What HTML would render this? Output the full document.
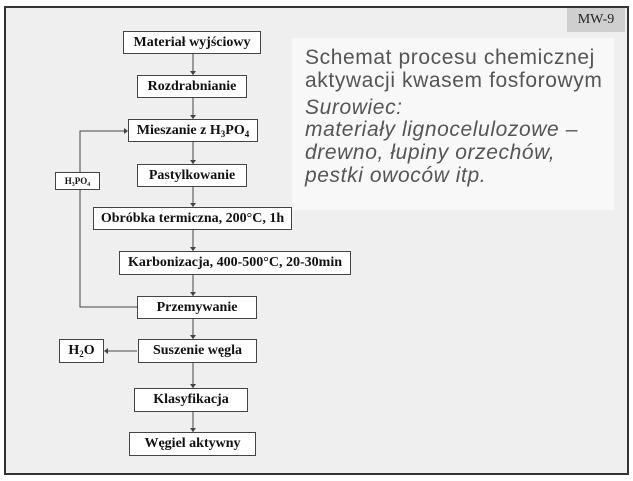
<!DOCTYPE html>
<html><head><meta charset="utf-8"><style>
body{margin:0;width:633px;height:481px;background:#fff;position:relative;overflow:hidden;font-family:"Liberation Serif",serif}
.frame{position:absolute;left:4px;top:6px;width:621px;height:465px;border:2px solid #333;background:#efefef}
.b{position:absolute;border:1px solid #444;background:#fff;font-weight:bold;font-size:14px;color:#111;display:flex;align-items:center;justify-content:center;white-space:nowrap;box-sizing:border-box}
.b sub{font-size:9px;vertical-align:-3px;line-height:0}
.t{position:absolute;font-family:"Liberation Sans",sans-serif;color:#555;font-size:21px;letter-spacing:0.6px;white-space:nowrap;line-height:24px}
svg{position:absolute;left:0;top:0}
</style></head><body>
<div class="frame"></div>
<div style="position:absolute;left:567px;top:8px;width:58px;height:24px;background:#cfcfcf;font-size:14px;color:#222;display:flex;align-items:center;justify-content:center">MW-9</div>
<div style="position:absolute;left:292px;top:38px;width:322px;height:172px;background:#f8f8f8"></div>
<div class="t" style="left:305px;top:46px">Schemat procesu chemicznej</div>
<div class="t" style="left:305px;top:69px">aktywacji kwasem fosforowym</div>
<div class="t" style="left:305px;top:96px;font-style:italic">Surowiec:</div>
<div class="t" style="left:305px;top:118px;font-style:italic">materiały lignocelulozowe –</div>
<div class="t" style="left:305px;top:141px;font-style:italic">drewno, łupiny orzechów,</div>
<div class="t" style="left:305px;top:164px;font-style:italic">pestki owoców itp.</div>
<svg width="633" height="481"><g stroke="#444" stroke-width="1" fill="none">
<line x1="193" y1="53" x2="193" y2="75"/><line x1="193" y1="97" x2="193" y2="119"/>
<line x1="193" y1="141" x2="193" y2="164"/><line x1="193" y1="186" x2="193" y2="207"/>
<line x1="193" y1="229" x2="193" y2="251"/><line x1="193" y1="275" x2="193" y2="296"/>
<line x1="193" y1="319" x2="193" y2="339"/><line x1="193" y1="363" x2="193" y2="388"/>
<line x1="193" y1="412" x2="193" y2="432"/>
<polyline points="137,307 80,307 80,131 124,131"/>
<line x1="137" y1="351" x2="108" y2="351"/>
</g><g fill="#444">
<polygon points="190,71 196,71 193,75"/><polygon points="190,115 196,115 193,119"/>
<polygon points="190,160 196,160 193,164"/><polygon points="190,203 196,203 193,207"/>
<polygon points="190,247 196,247 193,251"/><polygon points="190,292 196,292 193,296"/>
<polygon points="190,335 196,335 193,339"/><polygon points="190,384 196,384 193,388"/>
<polygon points="190,428 196,428 193,432"/>
<polygon points="124,128 124,134 128,131"/><polygon points="108,348 108,354 104,351"/>
</g></svg>
<div class="b" style="left:123px;top:31px;width:138px;height:23px"><span>Materiał wyjściowy</span></div>
<div class="b" style="left:137px;top:75px;width:110px;height:23px"><span>Rozdrabnianie</span></div>
<div class="b" style="left:128px;top:119px;width:130px;height:23px"><span>Mieszanie z H<sub>3</sub>PO<sub>4</sub></span></div>
<div class="b" style="left:137px;top:164px;width:110px;height:23px"><span>Pastylkowanie</span></div>
<div class="b" style="left:93px;top:207px;width:199px;height:23px"><span>Obróbka termiczna, 200°C, 1h</span></div>
<div class="b" style="left:119px;top:251px;width:232px;height:24px"><span>Karbonizacja, 400-500°C, 20-30min</span></div>
<div class="b" style="left:137px;top:296px;width:120px;height:23px"><span>Przemywanie</span></div>
<div class="b" style="left:138px;top:339px;width:119px;height:24px"><span>Suszenie węgla</span></div>
<div class="b" style="left:134px;top:388px;width:114px;height:24px"><span>Klasyfikacja</span></div>
<div class="b" style="left:129px;top:432px;width:127px;height:24px"><span>Węgiel aktywny</span></div>
<div class="b" style="left:55px;top:172px;width:45px;height:18px;font-size:9px"><span>H<sub style="font-size:6px;vertical-align:-2px">3</sub>PO<sub style="font-size:6px;vertical-align:-2px">4</sub></span></div>
<div class="b" style="left:59px;top:339px;width:45px;height:24px"><span>H<sub>2</sub>O</span></div>
</body></html>
